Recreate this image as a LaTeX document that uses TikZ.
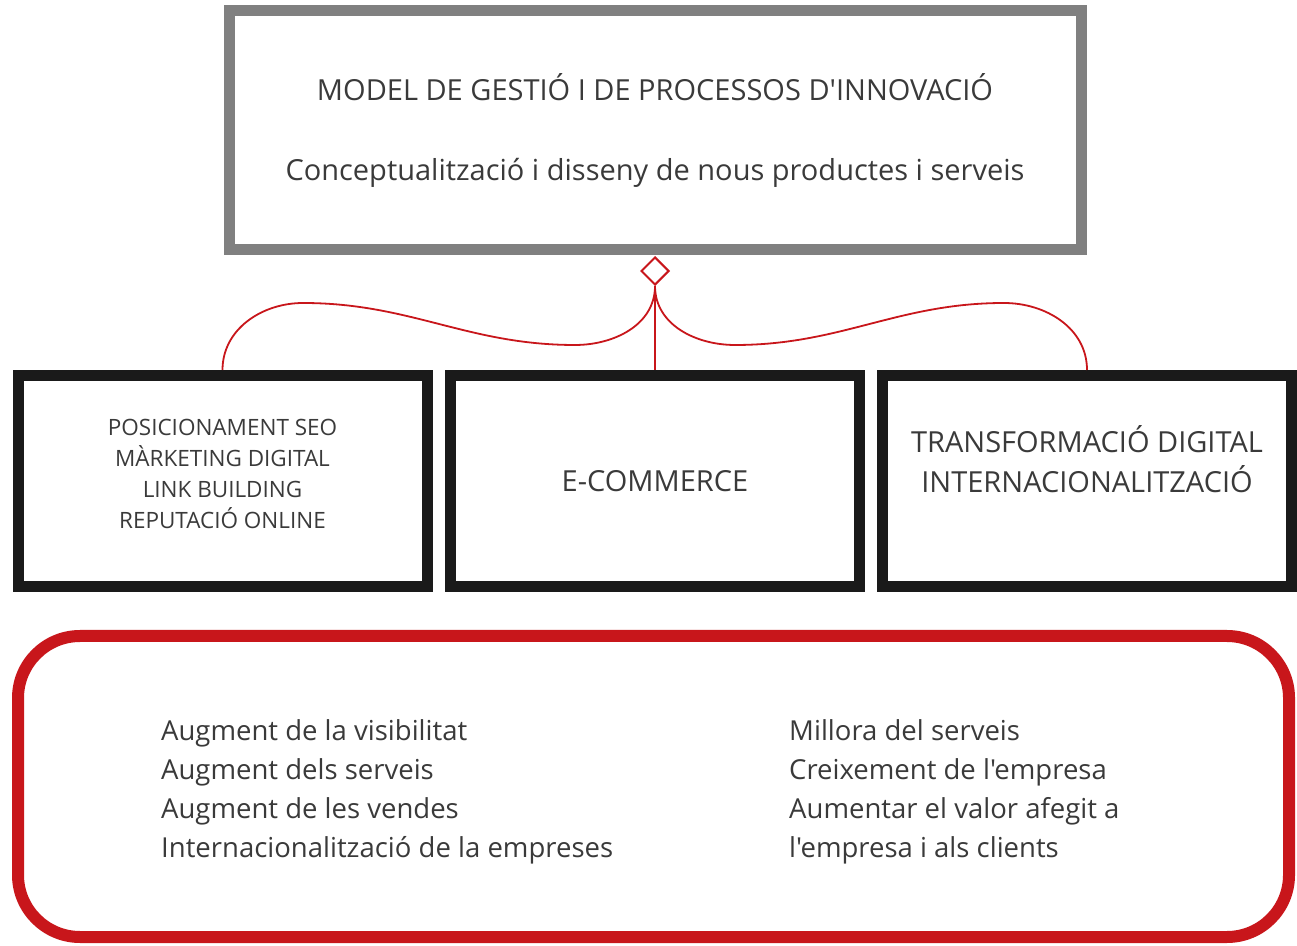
\documentclass[tikz,border=0pt]{standalone}
\usepackage{fontspec}
\setmainfont{Open Sans}[Ligatures=TeXOff]
\usetikzlibrary{positioning,shapes.geometric}

\definecolor{boxgray}{HTML}{808080}
\definecolor{boxblack}{HTML}{1A1A1A}
\definecolor{linkred}{HTML}{C8161B}
\definecolor{txtgray}{HTML}{3A3A3A}

\begin{document}
\begin{tikzpicture}[x=1pt,y=1pt,
	topbox/.style={draw=boxgray, line width=11pt, minimum width=852pt, minimum height=239pt, inner sep=0pt, align=center, text=txtgray},
	subbox/.style={draw=boxblack, line width=11pt, minimum width=409pt, minimum height=211pt, inner sep=0pt, align=center, text=txtgray},
	boxtext/.style={inner sep=0pt, align=center, text=txtgray},
	link/.style={draw=linkred, color=linkred, line width=1.8pt},
	rhombus/.style={diamond, draw=linkred, line width=2pt, fill=white, minimum width=28pt, minimum height=28pt, inner sep=0pt},
	resultbox/.style={draw=linkred, line width=12pt, rounded corners=62pt, minimum width=1271pt, minimum height=301pt},
	resulttext/.style={anchor=west, align=left, inner sep=0pt, text=txtgray, font=\fontsize{27.5}{39}\selectfont}
	]
	\useasboundingbox (0,0) rectangle (1297,945);
	
	% innovation model
	\node[topbox, font=\fontsize{29}{33}\selectfont] (model) at (655,815) {MODEL DE GESTIÓ I DE PROCESSOS D'INNOVACIÓ\\[47pt]
		Conceptualització i disseny de nous productes i serveis};
	\node[rhombus, below=1pt of model] (dia) {};
	
	% services
	\node[subbox, font=\fontsize{29}{33}\selectfont] (ecom) at (655,464) {E-COMMERCE};
	\node[subbox, left=12.5pt of ecom] (seo) {};
	\node[subbox, right=12pt of ecom] (trans) {};
	\node[boxtext, font=\fontsize{22.5}{31}\selectfont] (seotext) at ([yshift=7pt]seo.center) {POSICIONAMENT SEO\\MÀRKETING DIGITAL\\LINK BUILDING\\REPUTACIÓ ONLINE};
	\node[boxtext, font=\fontsize{29}{40}\selectfont] (transtext) at ([yshift=22pt]trans.center) {TRANSFORMACIÓ DIGITAL\\INTERNACIONALITZACIÓ};
	
	\coordinate (lowL) at (575,600);
	\coordinate (topL) at (303,642);
	\coordinate (lowR) at (735,600);
	\coordinate (topR) at (1004,642);
	
	\draw[link] (dia.south) -- (ecom.north);
	\draw[link] (dia.south) to[out=-90,in=0] (lowL) to[out=180,in=0] (topL) to[out=180,in=90] (seo.north);
	\draw[link] (dia.south) to[out=-90,in=180] (lowR) to[out=0,in=180] (topR) to[out=0,in=90] (trans.north);
	
	% results
	\node[resultbox] (result) at (653.5,158.5) {};
	\node[resulttext] (resL) at (161,153) {Augment de la visibilitat\\Augment dels serveis\\Augment de les vendes\\Internacionalització de la empreses};
	\node[resulttext] (resR) at (789,153) {Millora del serveis\\Creixement de l'empresa\\Aumentar el valor afegit a\\l'empresa i als clients};
\end{tikzpicture}
\end{document}
